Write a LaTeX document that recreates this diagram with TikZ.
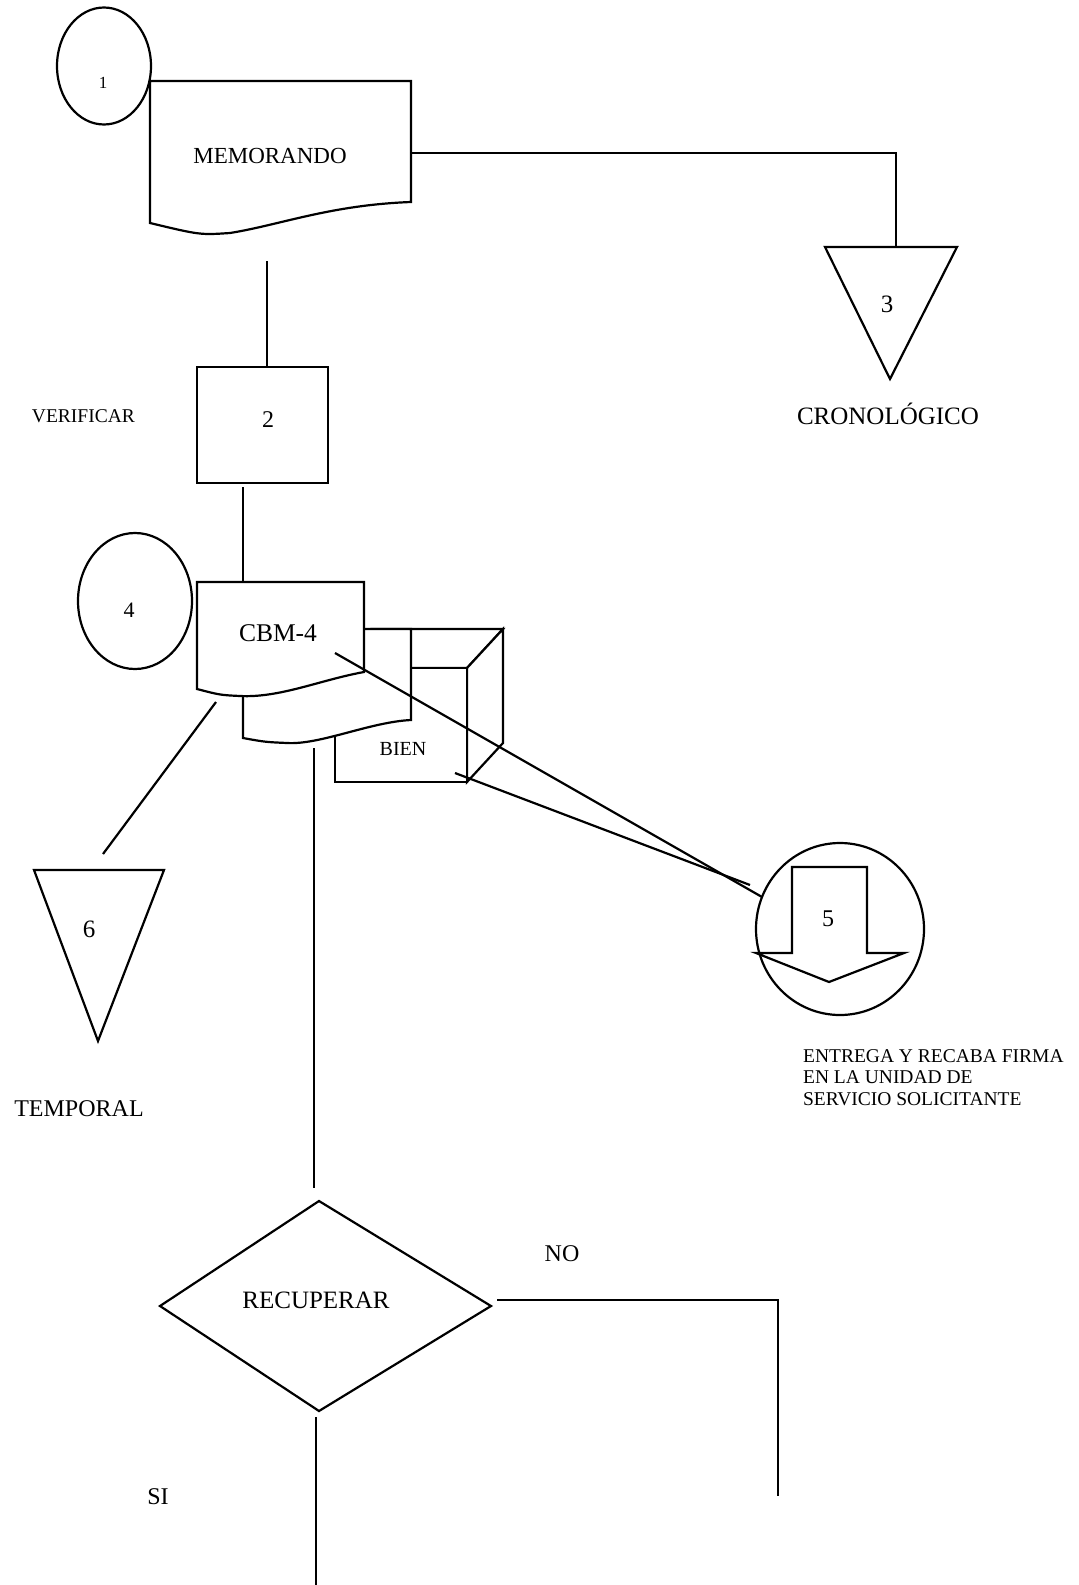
\documentclass[tikz,border=0pt]{standalone}
\usepackage{fontspec}
\setmainfont{Liberation Serif}
\usetikzlibrary{shapes.geometric}
\newcommand{\fs}[1]{\fontsize{#1}{#1}\selectfont}
\begin{document}
\begin{tikzpicture}[x=0.5pt,y=-0.5pt,
  line width=1.1pt, line join=miter,
  shapebox/.style={draw, fill=white},
  oval/.style={ellipse, draw, fill=white, inner sep=0pt},
  link/.style={draw},
  lbl/.style={inner sep=0pt, anchor=base},
]
\fill[white] (0,0) rectangle (1078,1585);
\useasboundingbox (0,0) rectangle (1078,1585);

% ---- start connector 1 and the memo document ----
\node[oval, minimum width=47pt, minimum height=58.5pt] (c1) at (104,66) {};
\node[lbl, font=\fs{8.5}] (t1) at (103,88) {1};

\draw[shapebox] (150,81) coordinate (memo-tl) -- (411,81) coordinate (memo-tr)
  -- (411,202) coordinate (memo-br)
  .. controls (330,205) and (280,225) .. (230,233)
  .. controls (200,235) .. (150,223) coordinate (memo-bl) -- cycle;
\node[lbl, font=\fs{11.5}] (memo) at (270,163) {MEMORANDO};
\coordinate (memo-r) at (411,153);
\coordinate (memo-out) at (267,261);

% ---- chronological file (3) ----
\draw[shapebox] (825,247) coordinate (tri3-l) -- (957,247) coordinate (tri3-r)
  -- (890,379) coordinate (tri3-b) -- cycle;
\coordinate (tri3-top) at (896,247);
\node[lbl, font=\fs{12.5}] (t3) at (887,312) {3};
\node[lbl, font=\fs{12.5}] (crono) at (888,424) {CRONOLÓGICO};
\draw[link] (memo-r) -| (tri3-top);

% ---- verification (2) ----
\node[draw, minimum width=65.5pt, minimum height=58pt, inner sep=0pt] (box2) at (262.5,425) {};
\node[lbl, font=\fs{12}] (t2) at (268,427) {2};
\node[lbl, anchor=base east, font=\fs{9.75}] (verif) at (136,422) {VERIFICAR};
\draw[link] (memo-out) -- (memo-out |- box2.north);
\coordinate (b2-out) at (243,487);
\coordinate (cbm-in) at (243,582);
\draw[link] (b2-out) -- (cbm-in);

% ---- the item (cube) behind the forms ----
\draw[shapebox] (335,668) coordinate (cube-ftl) -- (467,668) coordinate (cube-ftr)
  -- (503,629) coordinate (cube-btr) -- (371,629) coordinate (cube-btl) -- cycle;
\draw[shapebox] (cube-ftr) -- (cube-btr) -- (503,743) coordinate (cube-bbr)
  -- (467,782) coordinate (cube-fbr) -- cycle;
\draw[shapebox] (cube-ftl) rectangle (cube-fbr);
\node[lbl, font=\fs{10}] (bien) at (403,755) {BIEN};
\coordinate (bien-out) at (455,773);

% ---- CBM-4 form, copy behind and original in front ----
\draw[shapebox] (243,629) -- (411,629) -- (411,720)
  .. controls (370,722) and (320,745) .. (287,743)
  .. controls (265,742) .. (243,738) coordinate (copy-bl) -- cycle;
\draw[shapebox] (197,582) -- (364,582) -- (364,672)
  .. controls (320,680) and (280,698) .. (240,696)
  .. controls (220,695) .. (197,689) -- cycle;
\node[lbl, font=\fs{12.75}] (cbm) at (278,641) {CBM-4};
\coordinate (cbm-out) at (335,653);
\coordinate (cbm-wave) at (216,702);
\coordinate (copy-out) at (314,748);

% ---- connector 4 ----
\node[oval, minimum width=57pt, minimum height=68pt] (c4) at (135,601) {};
\node[lbl, font=\fs{11}] (t4) at (129,617) {4};

% ---- delivery (5) ----
\node[oval, minimum width=84pt, minimum height=86pt] (c5) at (840,929) {};
\draw[line join=miter] (792,953) -- (792,867) -- (867,867) -- (867,953) -- (904,953)
  -- (829,982) -- (756,953) -- cycle;
\node[lbl, font=\fs{12}] (t5) at (828,926) {5};
\coordinate (c5-a) at (762,897);
\coordinate (c5-b) at (750,885);
\draw[link] (cbm-out) -- (c5-a);
\draw[link] (bien-out) -- (c5-b);
\node[lbl, anchor=base west, align=left, font=\fontsize{9.75}{10.75}\selectfont] (entrega) at (802,1105)
  {ENTREGA Y RECABA FIRMA\\EN LA UNIDAD DE\\SERVICIO SOLICITANTE};

% ---- temporary file (6) ----
\draw[shapebox] (34,870) coordinate (tri6-l) -- (164,870) coordinate (tri6-r)
  -- (98,1041) coordinate (tri6-b) -- cycle;
\coordinate (tri6-in) at (103,854);
\draw[link] (cbm-wave) -- (tri6-in);
\node[lbl, font=\fs{12.5}] (t6) at (89,937) {6};
\node[lbl, font=\fs{12}] (temp) at (79,1116) {TEMPORAL};

% ---- decision ----
\draw[shapebox] (319,1201) coordinate (dec-t) -- (491,1306) coordinate (dec-r)
  -- (319,1411) coordinate (dec-b) -- (160,1306) coordinate (dec-l) -- cycle;
\node[lbl, font=\fs{12.5}] (recup) at (316,1308) {RECUPERAR};
\coordinate (dec-in) at (314,1188);
\draw[link] (copy-out) -- (dec-in);

\coordinate (no-a) at (497,1300);
\coordinate (no-c) at (778,1496);
\draw[link] (no-a) -| (no-c);
\node[lbl, font=\fs{12}] (no) at (562,1261) {NO};

\coordinate (si-a) at (316,1417);
\coordinate (si-b) at (316,1585);
\draw[link] (si-a) -- (si-b);
\node[lbl, font=\fs{12}] (si) at (158,1504) {SI};
\end{tikzpicture}
\end{document}
